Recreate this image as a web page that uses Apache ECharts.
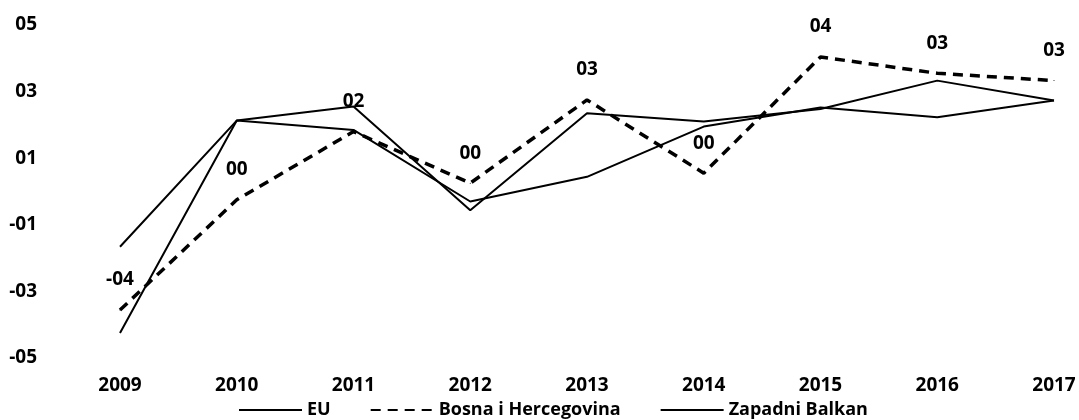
<!DOCTYPE html>
<html>
<head>
<meta charset="utf-8">
<title>EU / BiH / Zapadni Balkan</title>
<script src="https://cdn.jsdelivr.net/npm/echarts/dist/echarts.min.js"></script>
<style>
    html, body { margin: 0; padding: 0; background: #fff; }
    #chart { width: 1079px; height: 420px; }
</style>
</head>
<body>
<div id="chart"></div>
<script>
// godine
var years = ["2009", "2010", "2011", "2012", "2013", "2014", "2015", "2016", "2017"];

// vrijednosti serija (ocitano sa slike)
var euValues = [-4.25, 2.13, 1.85, -0.3, 0.44, 1.95, 2.52, 2.23, 2.73];
var bihValues = [-3.56, -0.25, 1.8, 0.25, 2.75, 0.55, 4.04, 3.55, 3.33];
var zbValues = [-1.66, 2.13, 2.55, -0.56, 2.35, 2.1, 2.48, 3.33, 2.73];

// oznake iznad isprekidane linije, kako pisu na slici
var bihLabels = ["-04", "00", "02", "00", "03", "00", "04", "03", "03"];

// oznake na y osi (od -5 do 5, korak 2)
var yTicks = [-5, -3, -1, 1, 3, 5];
var yTickLabels = ["-05", "-03", "-01", "01", "03", "05"];

var seriesNames = ["EU", "Bosna i Hercegovina", "Zapadni Balkan"];

var font = "'Open Sans', 'Liberation Sans', sans-serif";

var myChart = echarts.init(document.getElementById("chart"));

var option = {
    backgroundColor: "#fff",
    animation: false,
    grid: {
        left: 120,
        right: 25,
        top: 25,
        bottom: 62
    },
    //legenda
    legend: {
        top: 396,
        left: 233,
        itemWidth: 63,
        itemHeight: 12,
        itemGap: 39,
        data: seriesNames,
        itemStyle: { opacity: 0 },   //bez kruzica u legendi
        textStyle: {
            color: "#000",
            fontFamily: font,
            fontWeight: "bold",
            fontSize: 18
        }
    },
    xAxis: {
        type: "category",
        boundaryGap: false,
        data: years,
        axisLine: { show: false },
        axisTick: { show: false },
        splitLine: { show: false },
        axisLabel: {
            margin: 18,
            color: "#000",
            fontFamily: font,
            fontWeight: "bold",
            fontSize: 19
        }
    },
    yAxis: {
        type: "value",
        min: -5,
        max: 5,
        interval: 2,
        axisLine: { show: false },
        axisTick: { show: false },
        splitLine: { show: false },
        axisLabel: {
            margin: 83,
            color: "#000",
            fontFamily: font,
            fontWeight: "bold",
            fontSize: 19,
            formatter: function (v) {
                var i = yTicks.indexOf(Math.round(v));
                return i >= 0 ? yTickLabels[i] : "";
            }
        }
    },
    series: [
        {
            name: seriesNames[0],
            type: "line",
            symbol: "none",
            data: euValues,
            lineStyle: { color: "#000", width: 2 },
            itemStyle: { color: "#000" }
        },
        {
            name: seriesNames[1],
            type: "line",
            symbol: "circle",
            symbolSize: 1,
            showSymbol: true,
            data: bihValues,
            lineStyle: { color: "#000", width: 3.5, type: [10, 7] },
            itemStyle: { color: "#000" },
            label: {
                show: true,
                position: "top",
                distance: 20,
                color: "#000",
                fontFamily: font,
                fontWeight: "bold",
                fontSize: 19,
                formatter: function (p) {
                    return bihLabels[p.dataIndex];
                }
            }
        },
        {
            name: seriesNames[2],
            type: "line",
            symbol: "none",
            data: zbValues,
            lineStyle: { color: "#000", width: 2 },
            itemStyle: { color: "#000" }
        }
    ]
};

myChart.setOption(option);
</script>
</body>
</html>
